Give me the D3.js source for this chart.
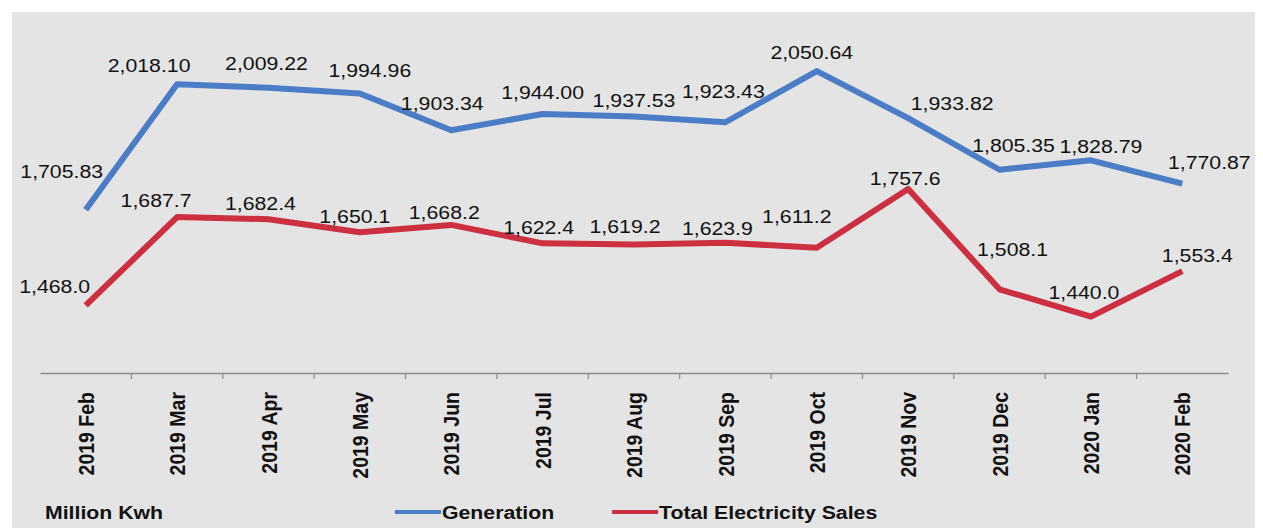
<!DOCTYPE html>
<html>
<head>
<meta charset="utf-8">
<script src="https://cdn.jsdelivr.net/npm/d3@7"></script>
<style>
  body { margin: 0; background: #fff; }
  text { font-family: "Liberation Sans", Arial, sans-serif; fill: #111; }
</style>
</head>
<body>
<svg id="chart" width="1263" height="528"></svg>
<script>
// data
const months = ["2019 Feb", "2019 Mar", "2019 Apr", "2019 May", "2019 Jun", "2019 Jul",
    "2019 Aug", "2019 Sep", "2019 Oct", "2019 Nov", "2019 Dec", "2020 Jan", "2020 Feb"];
const generation = [1705.83, 2018.10, 2009.22, 1994.96, 1903.34, 1944.00, 1937.53,
    1923.43, 2050.64, 1933.82, 1805.35, 1828.79, 1770.87];
const sales = [1468.0, 1687.7, 1682.4, 1650.1, 1668.2, 1622.4, 1619.2, 1623.9,
    1611.2, 1757.6, 1508.1, 1440.0, 1553.4];
const seriesNames = ["Generation", "Total Electricity Sales"];
const unitLabel = "Million Kwh";

// label nudges (layout only), in px from each point
const genNudge = [[-24, -38], [-28, -19], [-2, -24], [10, -23], [-9, -27], [0, -22], [0, -16],
    [-2, -31], [-5, -19], [44, -15], [14, -24], [10, -14], [27, -21]];
const salesNudge = [[-31, -19], [-21, -17], [-8, -16], [-5, -16], [-7, -13], [-4, -16], [-9, -18],
    [-8, -14], [-20, -31], [-3, -11], [13, -40], [-7, -24], [15, -16]];

const svg = d3.select("#chart");
const colors = { gen: "#4a7dc6", sales: "#cc2f40" };
const stretch = 1.12; // the source picture is a bit wide

// gray panel
svg.append("rect")
    .attr("x", 12).attr("y", 12)
    .attr("width", 1243).attr("height", 516)
    .attr("fill", "#e4e4e4");

const x = d3.scaleBand().domain(months).range([40, 1228]).padding(0);
const y = d3.scaleLinear().domain([1300, 2200]).range([373, 11]);
const cx = d => x(d) + x.bandwidth() / 2;

// x axis
const xAxis = svg.append("g")
    .attr("transform", "translate(0,373)")
    .call(d3.axisBottom(x).tickSize(0).tickSizeOuter(0));
xAxis.select(".domain").attr("stroke", "#8a8a8a").attr("stroke-width", 1.5);
xAxis.selectAll(".tick text")
    .attr("x", 0).attr("y", 0).attr("dy", "0.36em")
    .attr("text-anchor", "end")
    .attr("transform", `translate(0,19) scale(1.16,1) rotate(-90)`)
    .style("font-family", '"Liberation Sans", Arial, sans-serif')
    .style("font-size", "19.5px")
    .style("font-weight", "bold")
    .attr("fill", "#111");

// boundary ticks between months
svg.append("g").selectAll("line")
    .data(months.slice(1))
    .join("line")
    .attr("x1", d => x(d)).attr("x2", d => x(d))
    .attr("y1", 373).attr("y2", 379)
    .attr("stroke", "#8a8a8a").attr("stroke-width", 1.2);

const line = d3.line().x((d, i) => cx(months[i])).y(d => y(d));

function drawSeries(values, color, nudges, fmt) {
    svg.append("path")
        .datum(values)
        .attr("fill", "none")
        .attr("stroke", color)
        .attr("stroke-width", 6)
        .attr("stroke-linejoin", "round")
        .attr("d", line);

    svg.append("g").selectAll("text")
        .data(values)
        .join("text")
        .attr("transform", (d, i) => `translate(${cx(months[i]) + nudges[i][0]},${y(d) + nudges[i][1]}) scale(${stretch},1)`)
        .attr("text-anchor", "middle")
        .attr("dy", "0.35em")
        .style("font-size", "19px")
        .text(d => fmt(d));
}

drawSeries(generation, colors.gen, genNudge, d3.format(",.2f"));
drawSeries(sales, colors.sales, salesNudge, d3.format(",.1f"));

// legend
const legendY = 512;
svg.append("text")
    .attr("transform", `translate(45,${legendY}) scale(${stretch},1)`)
    .attr("dy", "0.35em")
    .style("font-size", "19px").style("font-weight", "bold")
    .text(unitLabel);

const legendItems = [
    { name: seriesNames[0], color: colors.gen, x0: 395 },
    { name: seriesNames[1], color: colors.sales, x0: 612 }
];
const lg = svg.append("g").selectAll("g")
    .data(legendItems)
    .join("g")
    .attr("transform", d => `translate(${d.x0},${legendY})`);
lg.append("line")
    .attr("x1", 0).attr("x2", 46)
    .attr("stroke", d => d.color).attr("stroke-width", 4);
lg.append("text")
    .attr("transform", `translate(47,0) scale(${stretch},1)`)
    .attr("dy", "0.35em")
    .style("font-size", "19px").style("font-weight", "bold")
    .text(d => d.name);
</script>
</body>
</html>
